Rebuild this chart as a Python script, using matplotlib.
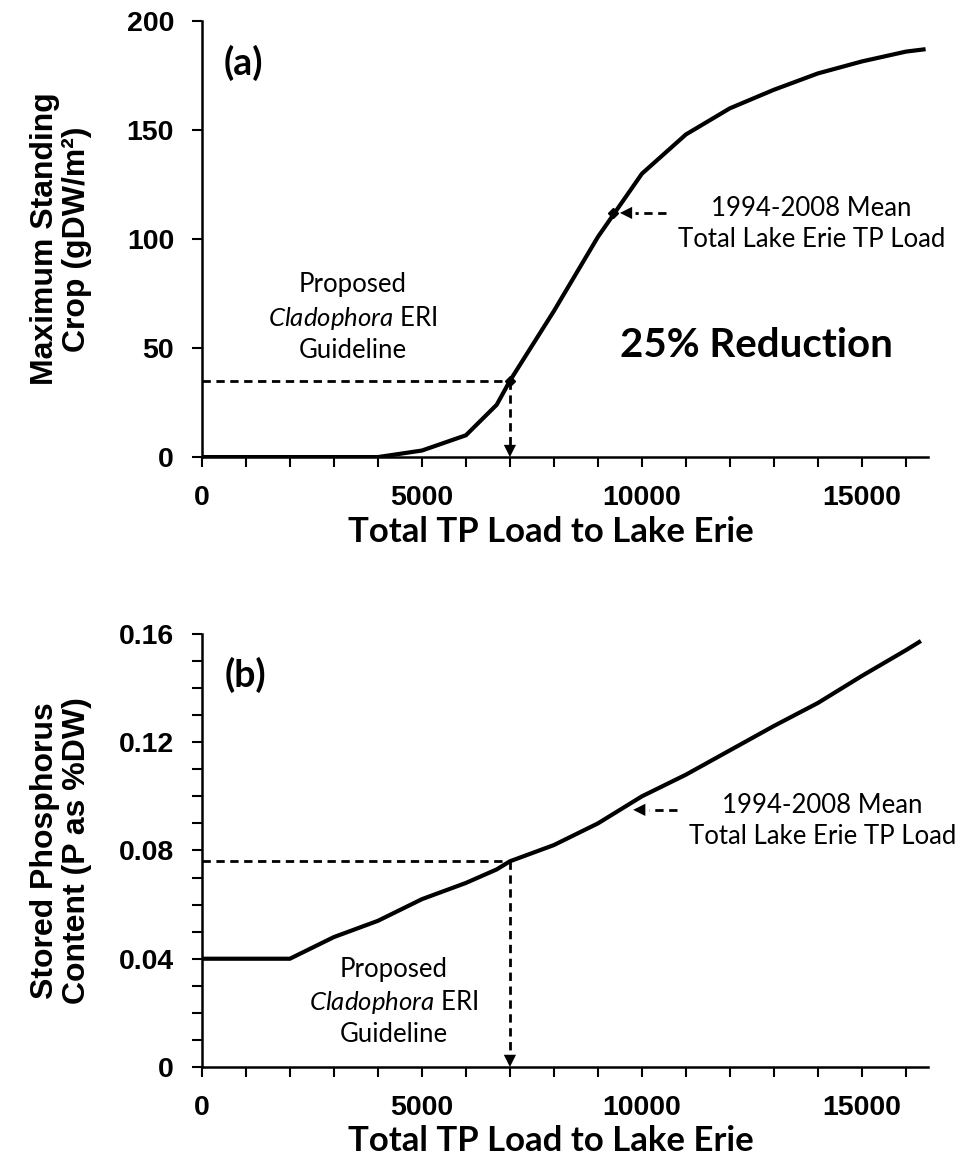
import matplotlib
matplotlib.use("Agg")
import matplotlib.pyplot as plt
from matplotlib.ticker import MultipleLocator

# panel (a): maximum standing crop vs total TP load
load_a = [0, 1000, 2000, 3000, 4000, 5000, 6000, 6700, 7000, 8000, 9000,
          10000, 11000, 12000, 13000, 14000, 15000, 16000, 16400]
crop_a = [0, 0, 0, 0, 0, 3, 10, 24, 35, 67, 101,
          130, 148, 160, 168.5, 176, 181.5, 186, 187]

# panel (b): stored phosphorus content vs total TP load
load_b = [0, 1000, 2000, 3000, 4000, 5000, 6000, 6700, 7000, 8000, 9000,
          10000, 11000, 12000, 13000, 14000, 15000, 16000, 16300]
phos_b = [0.040, 0.040, 0.040, 0.048, 0.054, 0.062, 0.068, 0.073, 0.076, 0.082, 0.090,
          0.100, 0.108, 0.117, 0.126, 0.1345, 0.1445, 0.154, 0.157]

# reference loads / levels
guide_load = 7000
guide_crop = 35
guide_phos = 0.076
mean_load = 9350
mean_crop = 112
mean_arrow_tail_a = 10550
mean_tip_b = 9800
mean_phos_b = 0.095
mean_arrow_tail_b = 10800

yticks_b = [0, 0.04, 0.08, 0.12, 0.16]
ytick_labels_b = ["0", "0.04", "0.08", "0.12", "0.16"]

TEXT_FONT = "Lato"

plt.rcParams["font.family"] = ["Liberation Sans", "DejaVu Sans"]
plt.rcParams["font.weight"] = "bold"
plt.rcParams["axes.labelweight"] = "bold"
plt.rcParams["mathtext.fontset"] = "custom"
plt.rcParams["mathtext.it"] = "Lato:style=italic:weight=normal"
plt.rcParams["mathtext.rm"] = "Lato:weight=normal"

LW = 3.0
DASH = (0, (3, 2))


def style_axis(ax):
    for side in ("top", "right"):
        ax.spines[side].set_visible(False)
    for side in ("left", "bottom"):
        ax.spines[side].set_linewidth(1.8)
    ax.tick_params(which="both", direction="out", length=7, width=1.5,
                   labelsize=20.5, pad=13)
    ax.set_xlim(0, 16500)
    ax.xaxis.set_major_locator(MultipleLocator(5000))
    ax.xaxis.set_minor_locator(MultipleLocator(1000))
    ax.set_xlabel("Total TP Load to Lake Erie", fontfamily=TEXT_FONT,
                  fontweight="bold", fontsize=25)
    ax.xaxis.set_label_coords(0.48, -0.135)
    ax.yaxis.set_label_coords(-0.152, 0.5)


def arrow_head(ax, xy, dx, dy):
    ax.annotate("", xy=xy, xytext=(dx, dy), textcoords="offset points",
                arrowprops=dict(arrowstyle="-|>", color="black", lw=0,
                                mutation_scale=22, shrinkA=0, shrinkB=0))


def note(ax, x, y, s, **kw):
    ax.text(x, y, s, fontfamily=TEXT_FONT, fontweight="normal", fontsize=18.5,
            ha="center", va="center", linespacing=1.3, **kw)


fig = plt.figure(figsize=(9.66, 11.72), dpi=100)
ax1 = fig.add_axes([0.209, 0.610, 0.7516, 0.372])
ax2 = fig.add_axes([0.209, 0.0896, 0.7516, 0.3695])

# ---- panel (a)
ax1.plot(load_a, crop_a, color="black", lw=LW, solid_joinstyle="miter")
ax1.set_ylim(0, 200)
ax1.yaxis.set_major_locator(MultipleLocator(50))
style_axis(ax1)
ax1.set_ylabel("Maximum Standing\nCrop (gDW/m\u00b2)", fontsize=23,
               fontweight="bold", linespacing=1.05)

ax1.plot([0, guide_load], [guide_crop, guide_crop], color="black", lw=2, ls=DASH)
ax1.plot([guide_load, guide_load], [guide_crop, 3], color="black", lw=2, ls=DASH)
arrow_head(ax1, (guide_load, 0), 0, 12)
ax1.plot([guide_load, mean_load], [guide_crop, mean_crop], ls="none", marker="D",
         ms=5.5, color="black")
ax1.plot([mean_arrow_tail_a, mean_load + 500], [mean_crop, mean_crop],
         color="black", lw=2, ls=DASH)
arrow_head(ax1, (mean_load + 150, mean_crop), 12, 0)

ax1.text(950, 181, "(a)", fontfamily=TEXT_FONT, fontweight="bold", fontsize=27,
         ha="center", va="center")
note(ax1, 3430, 64, "Proposed\n$\\mathit{Cladophora}$ ERI\nGuideline")
note(ax1, 13850, 107, "1994-2008 Mean\nTotal Lake Erie TP Load")
ax1.text(12610, 51, "25% Reduction", fontfamily=TEXT_FONT, fontweight="bold",
         fontsize=29, ha="center", va="center")

# ---- panel (b)
ax2.plot(load_b, phos_b, color="black", lw=LW, solid_joinstyle="miter")
ax2.set_ylim(0, 0.16)
ax2.set_yticks(yticks_b, ytick_labels_b)
ax2.yaxis.set_minor_locator(MultipleLocator(0.01))
style_axis(ax2)
ax2.set_ylabel("Stored Phosphorus\nContent (P as %DW)", fontsize=23,
               fontweight="bold", linespacing=1.05)

ax2.plot([0, guide_load], [guide_phos, guide_phos], color="black", lw=2, ls=DASH)
ax2.plot([guide_load, guide_load], [guide_phos, 0.003], color="black", lw=2, ls=DASH)
arrow_head(ax2, (guide_load, 0), 0, 12)
ax2.plot([mean_arrow_tail_b, mean_tip_b + 350], [mean_phos_b, mean_phos_b],
         color="black", lw=2, ls=DASH)
arrow_head(ax2, (mean_tip_b, mean_phos_b), 12, 0)

ax2.text(1000, 0.145, "(b)", fontfamily=TEXT_FONT, fontweight="bold", fontsize=27,
         ha="center", va="center")
note(ax2, 4360, 0.024, "Proposed\n$\\mathit{Cladophora}$ ERI\nGuideline")
note(ax2, 14100, 0.091, "1994-2008 Mean\nTotal Lake Erie TP Load")

fig.savefig("out.png", dpi=100)
